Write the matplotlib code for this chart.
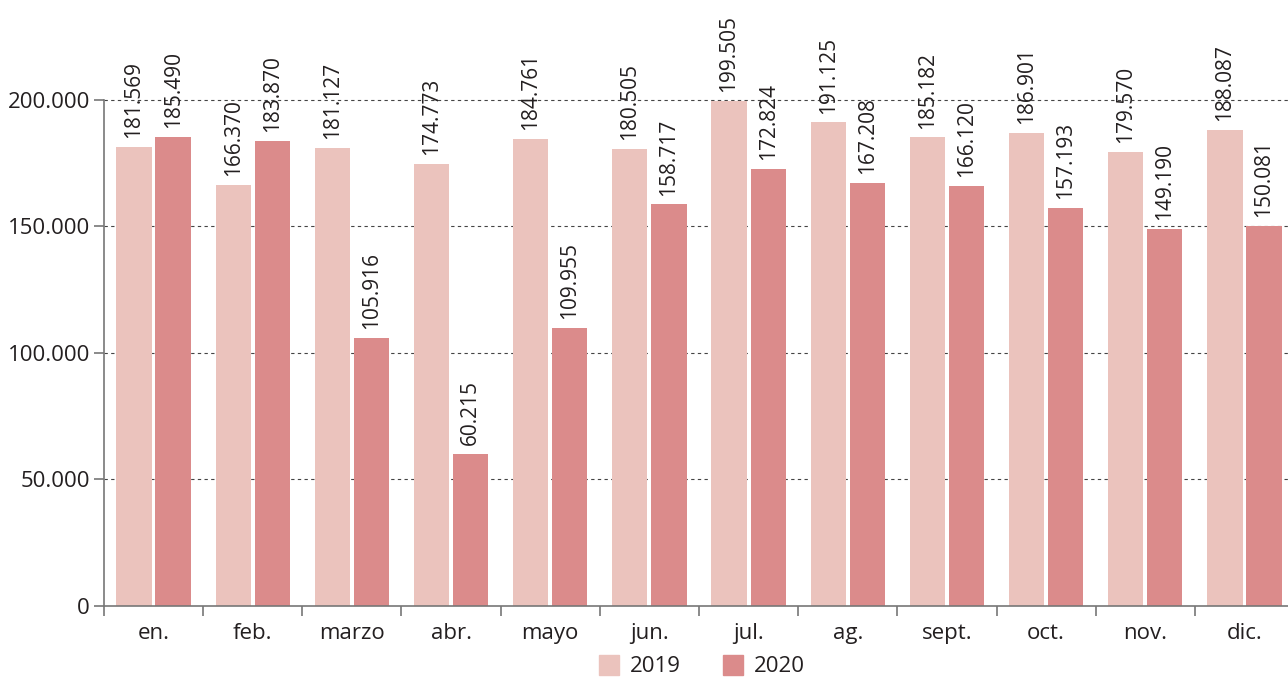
import numpy as np
import matplotlib.pyplot as plt
from matplotlib.patches import Patch

meses = ["en.", "feb.", "marzo", "abr.", "mayo", "jun.", "jul.", "ag.", "sept.", "oct.", "nov.", "dic."]
v2019 = [181569, 166370, 181127, 174773, 184761, 180505, 199505, 191125, 185182, 186901, 179570, 188087]
v2020 = [185490, 183870, 105916, 60215, 109955, 158717, 172824, 167208, 166120, 157193, 149190, 150081]

c2019 = "#ebc3bd"
c2020 = "#db8b8b"
texto = "#231f20"

plt.rcParams['font.family'] = ['Open Sans', 'DejaVu Sans']

def fmt(v):
    return f"{v:,}".replace(",", ".")

fig = plt.figure(figsize=(12.88, 6.79), dpi=100)
ax = fig.add_axes([0.0807, 0.1075, 0.924, 0.8925])

x = np.arange(len(meses))
w = 0.355
b1 = ax.bar(x - 0.197, v2019, w, color=c2019, zorder=3)
b2 = ax.bar(x + 0.197, v2020, w, color=c2020, zorder=3)

for bars, vals in ((b1, v2019), (b2, v2020)):
    for r, v in zip(bars, vals):
        ax.text(r.get_x() + r.get_width() / 2, v + 3500, fmt(v), rotation=90,
                ha="center", va="bottom", fontsize=15, color=texto, zorder=4)

ax.set_xlim(-0.5, 11.5)
ax.set_ylim(0, 239500)
ax.set_yticks([0, 50000, 100000, 150000, 200000])
ax.set_yticklabels([fmt(v) for v in [0, 50000, 100000, 150000, 200000]], fontsize=16, color=texto)
for y in [50000, 100000, 150000, 200000]:
    ax.axhline(y, color="#444444", lw=0.8, ls=(0, (3, 3)), zorder=1)

ax.set_xticks(np.arange(-0.5, 12, 1))
ax.set_xticklabels([])
ax.set_xticks(x, minor=True)
ax.set_xticklabels(meses, minor=True, fontsize=16, color=texto)
ax.tick_params(axis="x", which="minor", length=0, pad=12)
ax.tick_params(axis="x", which="major", length=7, color="#777777", width=1.2)
ax.tick_params(axis="y", length=7, color="#777777", width=1.2, pad=3)

for s in ["top", "right"]:
    ax.spines[s].set_visible(False)
ax.spines["left"].set_bounds(0, 200000)
ax.spines["left"].set_color("#777777")
ax.spines["left"].set_linewidth(1.2)
ax.spines["bottom"].set_color("#777777")
ax.spines["bottom"].set_linewidth(1.2)
ax.spines["bottom"].set_zorder(5)

handles = [Patch(color=c2019, label="2019"), Patch(color=c2020, label="2020")]
fig.legend(handles=handles, loc="lower center", bbox_to_anchor=(0.545, -0.027), ncol=2,
           frameon=False, fontsize=16, handlelength=0.9, handleheight=1.0,
           handletextpad=0.5, columnspacing=1.9, labelcolor=texto)

fig.savefig("out.png", dpi=100)
